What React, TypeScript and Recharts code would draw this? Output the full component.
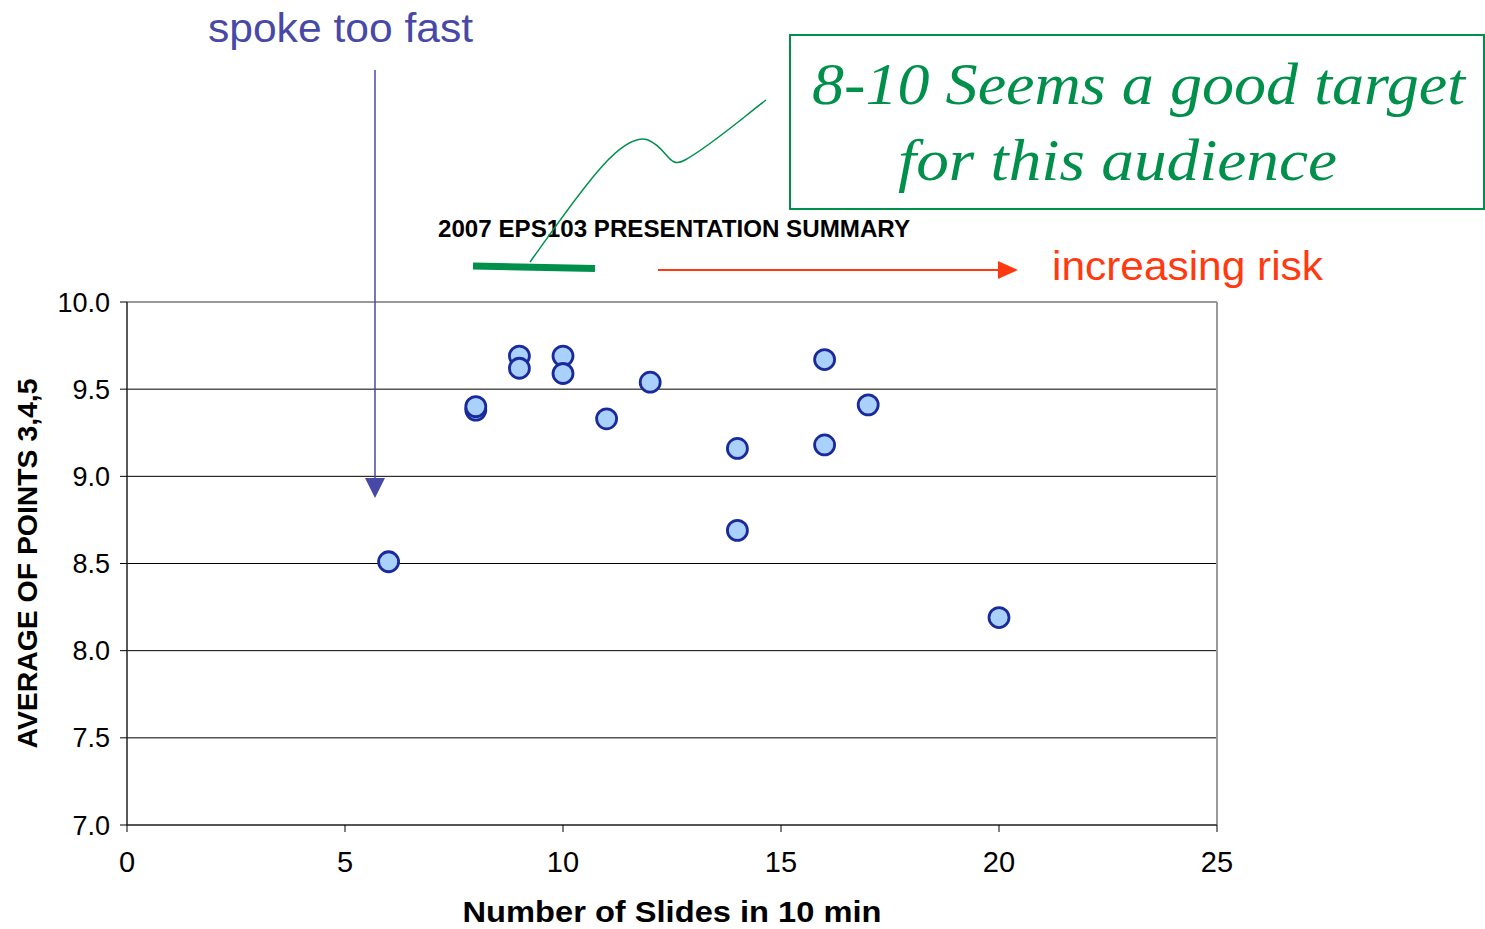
import React from 'react';
import {
  ScatterChart,
  Scatter,
  XAxis,
  YAxis,
  CartesianGrid,
  ReferenceLine,
} from 'recharts';

const slides = [6, 8, 8, 9, 9, 10, 10, 11, 12, 14, 14, 16, 16, 17, 20];
const avgPoints = [8.51, 9.38, 9.4, 9.69, 9.62, 9.69, 9.59, 9.33, 9.54, 9.16, 8.69, 9.67, 9.18, 9.41, 8.19];
const xTicks = [0, 5, 10, 15, 20, 25];
const yTicks = [7.0, 7.5, 8.0, 8.5, 9.0, 9.5, 10.0];

const chartTitle = '2007 EPS103 PRESENTATION SUMMARY';
const xTitle = 'Number of Slides in 10 min';
const yTitle = 'AVERAGE OF POINTS 3,4,5';

const data = slides.map((s, i) => ({ slides: s, avg: avgPoints[i] }));

const SANS = '"Liberation Sans", Arial, Helvetica, sans-serif';
const SERIF = '"Liberation Serif", "Times New Roman", serif';
const GREEN = '#00904c';
const BLUE = '#4848a6';
const RED = '#ff3a10';

const Dot = (props: any) => {
  const { cx, cy } = props;
  return <circle cx={cx} cy={cy} r={10} fill="#a9d1fb" stroke="#1a2a9c" strokeWidth={2.8} />;
};

const XTitle = (props: any) => {
  const { viewBox } = props;
  const cx = viewBox.x + viewBox.width / 2;
  return (
    <text x={cx} y={922} textAnchor="middle" fontFamily={SANS} fontWeight="bold" fontSize={30} fill="#000"
      textLength={419} lengthAdjust="spacingAndGlyphs">
      {xTitle}
    </text>
  );
};

const YTitle = (props: any) => {
  const { viewBox } = props;
  const cy = viewBox.y + viewBox.height / 2;
  return (
    <text x={37} y={cy} transform={`rotate(-90, 37, ${cy})`} textAnchor="middle" fontFamily={SANS}
      fontWeight="bold" fontSize={28} fill="#000" textLength={370} lengthAdjust="spacingAndGlyphs">
      {yTitle}
    </text>
  );
};

function Annotations() {
  return (
    <svg width={1485} height={929} style={{ position: 'absolute', left: 0, top: 0, pointerEvents: 'none' }}>
      {/* chart title */}
      <text x={438} y={237} fontFamily={SANS} fontWeight="bold" fontSize={24} fill="#000"
        textLength={472} lengthAdjust="spacingAndGlyphs">
        {chartTitle}
      </text>

      {/* spoke too fast */}
      <text x={208} y={42} fontFamily={SANS} fontSize={40} fill={BLUE} textLength={265} lengthAdjust="spacingAndGlyphs">
        spoke too fast
      </text>
      <line x1={375} y1={70} x2={375} y2={480} stroke={BLUE} strokeWidth={1.5} />
      <polygon points="365,478 385,478 375,498" fill={BLUE} />

      {/* increasing risk */}
      <line x1={658} y1={270} x2={1000} y2={270} stroke={RED} strokeWidth={2} />
      <polygon points="998,261 998,279 1018,270" fill={RED} />
      <text x={1052} y={280} fontFamily={SANS} fontSize={40} fill={RED} textLength={271} lengthAdjust="spacingAndGlyphs">
        increasing risk
      </text>

      {/* target range marker and callout */}
      <line x1={473} y1={266} x2={595} y2={268.5} stroke={GREEN} strokeWidth={7} />
      <path d="M530,262 C575,200 620,130 648,140 C668,148 668,170 685,160 C710,146 740,120 766,100"
        fill="none" stroke={GREEN} strokeWidth={1.5} />
      <rect x={790} y={35} width={694} height={174} fill="#fff" stroke={GREEN} strokeWidth={2} />
      <text x={812} y={104} fontFamily={SERIF} fontStyle="italic" fontSize={60} fill={GREEN}
        textLength={653} lengthAdjust="spacingAndGlyphs">
        8-10 Seems a good target
      </text>
      <text x={898} y={180} fontFamily={SERIF} fontStyle="italic" fontSize={60} fill={GREEN}
        textLength={439} lengthAdjust="spacingAndGlyphs">
        for this audience
      </text>
    </svg>
  );
}

export default function App() {
  return (
    <div style={{ position: 'absolute', left: 0, top: 0, width: 1485, height: 929, background: '#fff' }}>
      <ScatterChart width={1485} height={929} margin={{ top: 302, right: 268, bottom: 0, left: 0 }}>
        <CartesianGrid vertical={false} stroke="#000" strokeWidth={1} />
        <XAxis
          type="number"
          dataKey="slides"
          domain={[0, 25]}
          ticks={xTicks}
          interval={0}
          height={104}
          tickSize={7}
          tickMargin={19}
          axisLine={{ stroke: '#555', strokeWidth: 2 }}
          tickLine={{ stroke: '#000' }}
          tick={{ fontFamily: SANS, fontSize: 29, fill: '#000' }}
          label={<XTitle />}
        />
        <YAxis
          type="number"
          dataKey="avg"
          domain={[7, 10]}
          ticks={yTicks}
          interval={0}
          width={127}
          tickSize={7}
          tickMargin={10}
          tickFormatter={(v: number) => v.toFixed(1)}
          axisLine={{ stroke: '#222', strokeWidth: 1.5 }}
          tickLine={{ stroke: '#000' }}
          tick={{ fontFamily: SANS, fontSize: 27, fill: '#000' }}
          label={<YTitle />}
        />
        <ReferenceLine y={10} stroke="#999" strokeWidth={2} />
        <ReferenceLine x={25} stroke="#999" strokeWidth={2} />
        <Scatter data={data} shape={<Dot />} isAnimationActive={false} />
      </ScatterChart>
      <Annotations />
    </div>
  );
}
